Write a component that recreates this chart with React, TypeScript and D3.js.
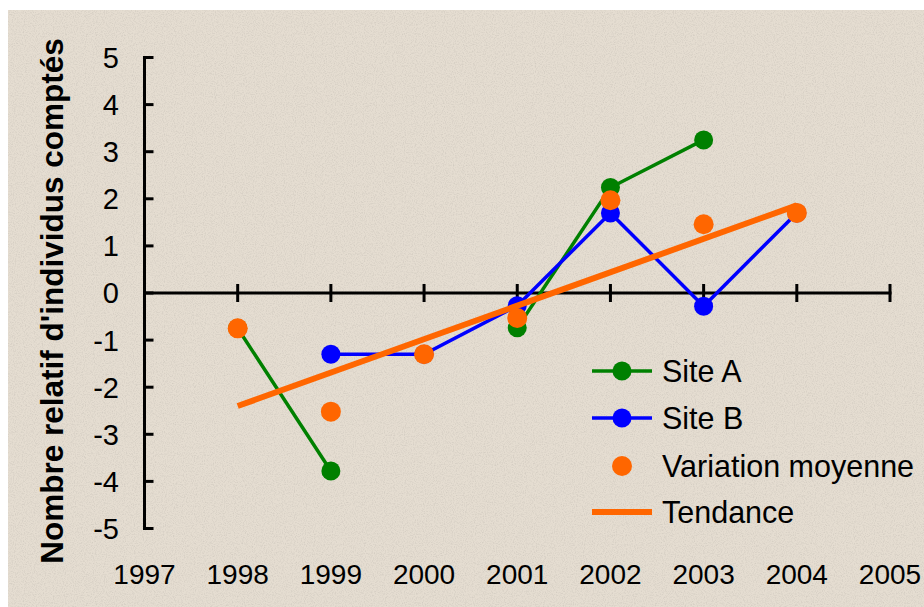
import React from "react";
import * as d3 from "d3";

const years = [1997, 1998, 1999, 2000, 2001, 2002, 2003, 2004, 2005];
const yTicks = [5, 4, 3, 2, 1, 0, -1, -2, -3, -4, -5];

// Site A (2000 missing)
const siteAYears = [1998, 1999, 2000, 2001, 2002, 2003];
const siteAValues: (number | null)[] = [-0.75, -3.78, null, -0.74, 2.24, 3.25];

// Site B
const siteBYears = [1999, 2000, 2001, 2002, 2003, 2004];
const siteBValues = [-1.3, -1.3, -0.27, 1.7, -0.28, 1.7];

// Variation moyenne
const meanYears = [1998, 1999, 2000, 2001, 2002, 2003, 2004];
const meanValues = [-0.75, -2.52, -1.3, -0.53, 1.97, 1.46, 1.7];

// Tendance
const trendYears = [1998, 2004];
const trendValues = [-2.4, 1.86];

const legendLabels = ["Site A", "Site B", "Variation moyenne", "Tendance"];

const GREEN = "#008000";
const BLUE = "#0000FF";
const ORANGE = "#FF6600";
const FONT = "'Liberation Sans', Arial, sans-serif";

export default function App() {
  const x = d3.scaleLinear().domain([1997, 2005]).range([144.5, 890]);
  const y = d3.scaleLinear().domain([-5, 5]).range([528.5, 57.5]);

  const lineA = d3
    .line<number>()
    .defined((_, i) => siteAValues[i] !== null)
    .x((_, i) => x(siteAYears[i]))
    .y((_, i) => y(siteAValues[i] as number));
  const lineB = d3
    .line<number>()
    .x((_, i) => x(siteBYears[i]))
    .y((d) => y(d));
  const lineT = d3
    .line<number>()
    .x((_, i) => x(trendYears[i]))
    .y((d) => y(d));

  const legendY = [371, 418, 466, 512];
  const lx0 = 592;
  const lx1 = 652;

  return (
    <svg
      width={924}
      height={607}
      style={{ position: "absolute", left: 0, top: 0, display: "block" }}
    >
      <defs>
        <filter id="speckle" x="0" y="0" width="100%" height="100%">
          <feTurbulence type="fractalNoise" baseFrequency="0.9" numOctaves="2" seed="3" result="n" />
          <feColorMatrix
            in="n"
            type="matrix"
            values="0 0 0 0 0.45  0 0 0 0 0.42  0 0 0 0 0.38  -2.2 0 0 0 1.25"
          />
        </filter>
      </defs>
      <rect x={0} y={0} width={924} height={607} fill="#ffffff" />
      <rect x={8} y={10} width={916} height={597} fill="#E5DDD1" />
      <rect x={8} y={10} width={916} height={597} filter="url(#speckle)" opacity={0.35} />

      {/* Y axis title */}
      <text
        transform={`translate(63,${301}) rotate(-90)`}
        textAnchor="middle"
        fontFamily={FONT}
        fontWeight="bold"
        fontSize={31.5}
        fill="#000"
      >
        Nombre relatif d'individus comptés
      </text>

      {/* Y axis */}
      <line x1={x(1997)} x2={x(1997)} y1={y(5) - 1.5} y2={y(-5) + 1.5} stroke="#000" strokeWidth={3} />
      {yTicks.map((t) => (
        <g key={t}>
          <line x1={x(1997)} x2={x(1997) + 9} y1={y(t)} y2={y(t)} stroke="#000" strokeWidth={3} />
          <text
            x={119}
            y={y(t)}
            dy="0.36em"
            textAnchor="end"
            fontFamily={FONT}
            fontSize={29}
            fill="#000"
          >
            {t}
          </text>
        </g>
      ))}

      {/* X axis at 0 */}
      <line x1={x(1997)} x2={x(2005) + 1.5} y1={y(0)} y2={y(0)} stroke="#000" strokeWidth={3} />
      {years.map((yr) => (
        <g key={yr}>
          {yr > 1997 && (
            <line x1={x(yr)} x2={x(yr)} y1={y(0) - 9} y2={y(0) + 9} stroke="#000" strokeWidth={3} />
          )}
          <text
            x={x(yr)}
            y={574}
            dy="0.36em"
            textAnchor="middle"
            fontFamily={FONT}
            fontSize={28}
            fill="#000"
          >
            {yr}
          </text>
        </g>
      ))}

      {/* Site A */}
      <path d={lineA(siteAValues as number[]) || ""} fill="none" stroke={GREEN} strokeWidth={3.5} />
      {siteAValues.map((v, i) =>
        v === null ? null : (
          <circle key={"a" + i} cx={x(siteAYears[i])} cy={y(v)} r={9.5} fill={GREEN} />
        )
      )}

      {/* Site B */}
      <path d={lineB(siteBValues) || ""} fill="none" stroke={BLUE} strokeWidth={3.5} />
      {siteBValues.map((v, i) => (
        <circle key={"b" + i} cx={x(siteBYears[i])} cy={y(v)} r={9.5} fill={BLUE} />
      ))}

      {/* Tendance */}
      <path d={lineT(trendValues) || ""} fill="none" stroke={ORANGE} strokeWidth={6} />

      {/* Variation moyenne */}
      {meanValues.map((v, i) => (
        <circle key={"m" + i} cx={x(meanYears[i])} cy={y(v)} r={10} fill={ORANGE} />
      ))}

      {/* Legend */}
      <g fontFamily={FONT} fontSize={30.5} fill="#000">
        <line x1={lx0} x2={lx1} y1={legendY[0]} y2={legendY[0]} stroke={GREEN} strokeWidth={3.5} />
        <circle cx={(lx0 + lx1) / 2} cy={legendY[0]} r={9.5} fill={GREEN} />
        <line x1={lx0} x2={lx1} y1={legendY[1]} y2={legendY[1]} stroke={BLUE} strokeWidth={3.5} />
        <circle cx={(lx0 + lx1) / 2} cy={legendY[1]} r={9.5} fill={BLUE} />
        <circle cx={(lx0 + lx1) / 2} cy={legendY[2]} r={10} fill={ORANGE} />
        <line x1={lx0} x2={lx1} y1={legendY[3]} y2={legendY[3]} stroke={ORANGE} strokeWidth={6} />
        {legendLabels.map((l, i) => (
          <text key={l} x={662} y={legendY[i]} dy="0.36em">
            {l}
          </text>
        ))}
      </g>
    </svg>
  );
}
